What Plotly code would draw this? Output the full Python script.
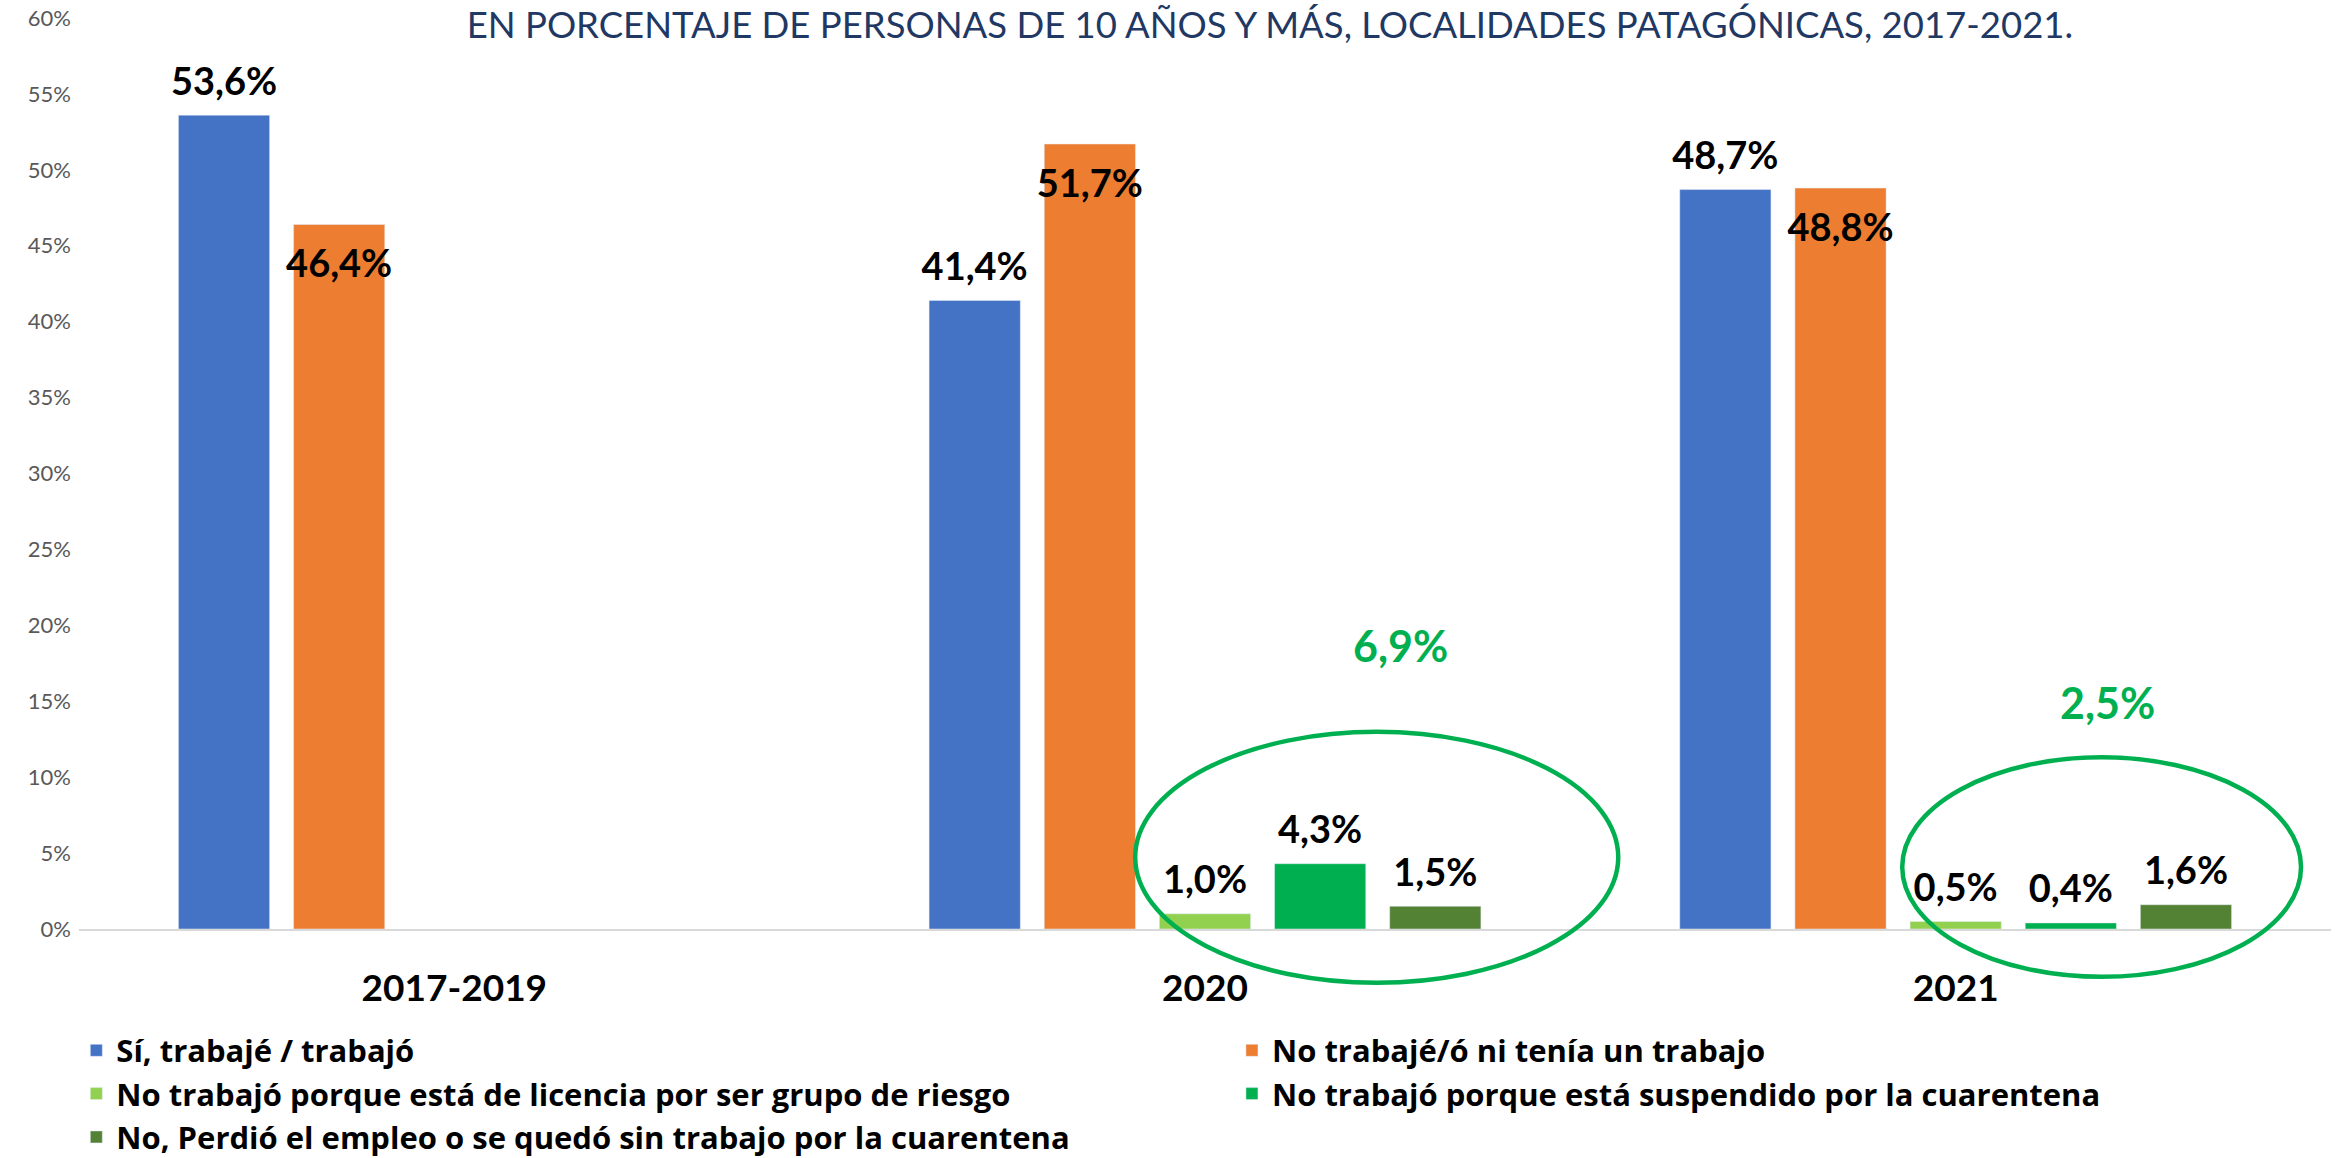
import plotly.graph_objects as go

categories = ["2017-2019", "2020", "2021"]
si_trabajo = [53.6, 41.4, 48.7]
no_trabajo = [46.4, 51.7, 48.8]
licencia_riesgo = [None, 1.0, 0.5]
suspendido = [None, 4.3, 0.4]
perdio_empleo = [None, 1.5, 1.6]
totales_cuarentena = [None, 6.9, 2.5]
y_ticks = [0, 5, 10, 15, 20, 25, 30, 35, 40, 45, 50, 55, 60]
y_tick_labels = ["0%", "5%", "10%", "15%", "20%", "25%", "30%", "35%",
                 "40%", "45%", "50%", "55%", "60%"]

names = [
    "Sí, trabajé / trabajó",
    "No trabajé/ó ni tenía un trabajo",
    "No trabajó porque está de licencia por ser grupo de riesgo",
    "No trabajó porque está suspendido por la cuarentena",
    "No, Perdió el empleo o se quedó sin trabajo por la cuarentena",
]
colors = ["#4472C4", "#ED7D31", "#92D050", "#00B050", "#548235"]
series = [si_trabajo, no_trabajo, licencia_riesgo, suspendido, perdio_empleo]
legend_of = ["legend", "legend2", "legend", "legend2", "legend"]
# label placement: orange labels sit just inside the top of the bar
label_pos = ["top center", "bottom center", "top center", "top center", "top center"]
label_pad = [16, 37, 16, 16, 16]

FONT = "Lato, 'Open Sans', sans-serif"
label_font = dict(family=FONT, size=38, color="black", weight="bold")

fig = go.Figure()
for i, (name, col, vals) in enumerate(zip(names, colors, series)):
    fig.add_trace(go.Bar(
        x=categories, y=vals, name=name, marker_color=col,
        legend=legend_of[i], offsetgroup=f"g{i}",
        hoverinfo="skip",
    ))
for i, vals in enumerate(series):
    fig.add_trace(go.Scatter(
        x=categories, y=vals, mode="markers+text", offsetgroup=f"g{i}",
        marker=dict(size=label_pad[i], color="rgba(0,0,0,0)"),
        texttemplate="%{y:.1f}%", textposition=label_pos[i],
        textfont=label_font, showlegend=False, cliponaxis=False,
        hoverinfo="skip",
    ))

# green ellipses highlighting the quarantine categories
fig.add_shape(type="circle", xref="paper", yref="paper",
              x0=0.469, x1=0.6835, y0=-0.059, y1=0.2164,
              line=dict(color="#00B050", width=4.5), layer="above")
fig.add_shape(type="circle", xref="paper", yref="paper",
              x0=0.8096, x1=0.9867, y0=-0.0525, y1=0.1885,
              line=dict(color="#00B050", width=4.5), layer="above")

tot_pos = {1: (1.261, 18.7), 2: (2.202, 14.95)}
for idx, (xx, yy) in tot_pos.items():
    fig.add_annotation(x=xx, y=yy, xref="x", yref="y",
                       text=f"{totales_cuarentena[idx]:.1f}%".replace(".", ","),
                       showarrow=False,
                       font=dict(family=FONT, size=43, color="#00B050", weight="bold"))

legend_font = dict(family="'Open Sans', Lato, sans-serif", size=31, color="black", weight="bold")

fig.update_layout(
    width=2343, height=1158,
    margin=dict(l=79, r=12, t=18, b=229, autoexpand=False),
    plot_bgcolor="white", paper_bgcolor="white",
    separators=",.",
    barmode="group", bargap=0.233, bargroupgap=0.208,
    scattermode="group", scattergap=0.233,
    title=dict(
        text="EN PORCENTAJE DE PERSONAS DE 10 AÑOS Y MÁS, LOCALIDADES PATAGÓNICAS, 2017-2021.",
        x=0.5420, xanchor="center", y=0.9785, yanchor="middle",
        font=dict(family=FONT, size=36.5, color="#1F3864"),
    ),
    showlegend=True,
    legend=dict(
        orientation="v", xref="container", yref="container",
        x=0.03257, xanchor="left", y=0.1160, yanchor="top",
        font=legend_font, traceorder="normal", bgcolor="rgba(0,0,0,0)",
    ),
    legend2=dict(
        orientation="v", xref="container", yref="container",
        x=0.5258, xanchor="left", y=0.1160, yanchor="top",
        font=legend_font, traceorder="normal", bgcolor="rgba(0,0,0,0)",
    ),
    xaxis=dict(
        showgrid=False, showline=True, linecolor="#D9D9D9", linewidth=2,
        ticks="", ticklabelstandoff=26, automargin=False,
        tickfont=dict(family=FONT, size=37, color="black", weight="bold"),
    ),
    yaxis=dict(
        range=[0, 60], tickmode="array", tickvals=y_ticks, ticktext=y_tick_labels,
        showgrid=False, zeroline=False, showline=False, ticks="",
        ticklabelstandoff=7, automargin=False, ticklabeloverflow="allow",
        tickfont=dict(family=FONT, size=22, color="#595959"),
    ),
)

fig.write_html("out.html", config={"displayModeBar": False},
               post_script="document.body.style.margin='0';")
